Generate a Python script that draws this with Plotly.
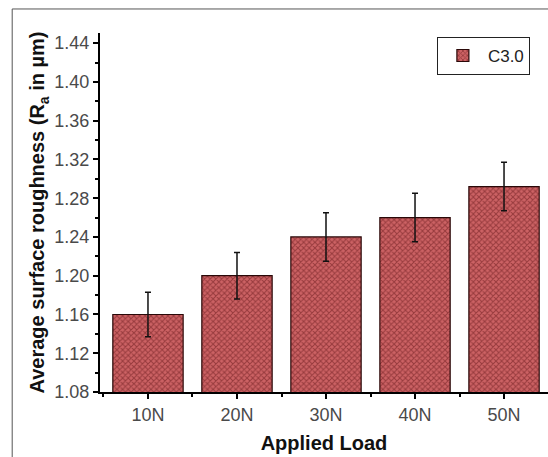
import plotly.graph_objects as go

categories = ["10N", "20N", "30N", "40N", "50N"]
roughness = [1.16, 1.20, 1.24, 1.26, 1.292]
roughness_err = [0.023, 0.024, 0.025, 0.025, 0.025]
series_name = "C3.0"
y_ticks = [1.08, 1.12, 1.16, 1.20, 1.24, 1.28, 1.32, 1.36, 1.40, 1.44]

xpos = list(range(len(categories)))

fig = go.Figure()
fig.add_trace(go.Bar(
    x=xpos, y=roughness, name=series_name, width=0.79,
    marker=dict(color="#c05456",
                line=dict(color="#2a0808", width=1.2),
                pattern=dict(shape="x", fgcolor="#621416", bgcolor="#cc6264",
                             size=4, solidity=0.45, fillmode="overlay")),
    error_y=dict(type="data", array=roughness_err, color="#111111",
                 thickness=1.5, width=3),
    showlegend=True,
))

fig.update_layout(
    width=548, height=457,
    margin=dict(l=100, r=0, t=33, b=65),
    paper_bgcolor="white", plot_bgcolor="white",
    font=dict(family="Arial, Liberation Sans, sans-serif", color="#333333"),
    bargap=0.2,
    legend=dict(x=0.752, y=0.989, xanchor="left", yanchor="top",
                bordercolor="#222222", borderwidth=1, bgcolor="white",
                font=dict(size=17, color="#222222"), itemwidth=40,
                tracegroupgap=0),
    xaxis=dict(
        range=[-0.539, 4.494],
        tickmode="array", tickvals=xpos, ticktext=categories,
        showgrid=False, zeroline=False,
        showline=True, linecolor="black", linewidth=2,
        ticks="outside", ticklen=5, tickwidth=2, tickcolor="black",
        tickfont=dict(size=18, color="#4a4a4a"),
        minor=dict(tickmode="linear", tick0=0.5, dtick=1, ticks="outside",
                   ticklen=3, tickwidth=2, tickcolor="black", showgrid=False),
        title=dict(text="<b>Applied Load</b>", font=dict(size=20, color="#111111"),
                   standoff=12),
    ),
    yaxis=dict(
        range=[1.08, 1.4505],
        tickmode="array", tickvals=y_ticks,
        ticktext=[f"{v:.2f}" for v in y_ticks],
        showgrid=False, zeroline=False,
        showline=True, linecolor="black", linewidth=2,
        ticks="outside", ticklen=5, tickwidth=2, tickcolor="black",
        tickfont=dict(size=18, color="#4a4a4a"),
        minor=dict(tickmode="linear", tick0=1.10, dtick=0.04, ticks="outside",
                   ticklen=3, tickwidth=2, tickcolor="black", showgrid=False),
        title=dict(text="<b>Average surface roughness (R<sub>a</sub> in µm)</b>",
                   font=dict(size=20, color="#111111"), standoff=4),
    ),
    shapes=[
        dict(type="line", xref="paper", yref="paper",
             x0=-0.196, x1=1.01, y0=1.0669, y1=1.0669,
             line=dict(color="#555555", width=1)),
        dict(type="line", xref="paper", yref="paper",
             x0=-0.196, x1=-0.196, y0=-0.2, y1=1.0669,
             line=dict(color="#555555", width=1)),
    ],
)

fig.write_html("out.html")
